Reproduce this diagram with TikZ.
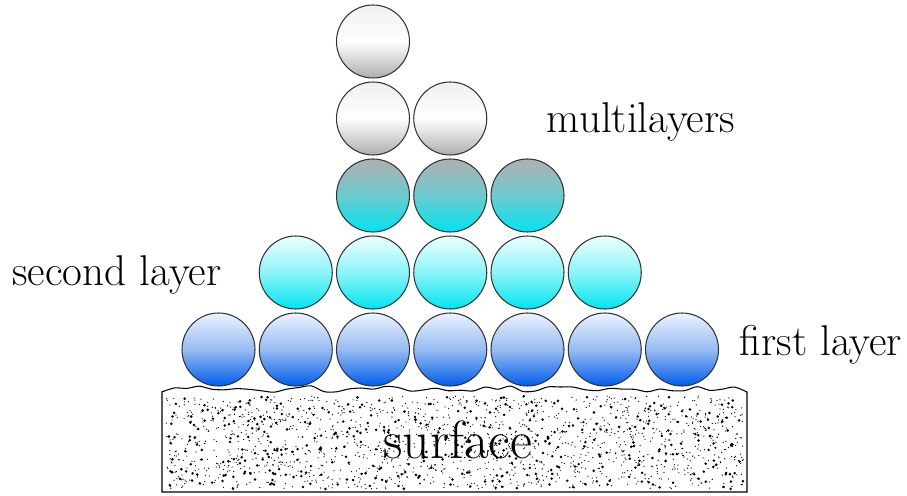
\documentclass[tikz,border=0pt]{standalone}
\usepackage{xcolor}

\definecolor{bluetop}{RGB}{236,243,255}
\definecolor{bluemid}{RGB}{150,188,242}
\definecolor{bluebot}{RGB}{0,92,235}
\definecolor{cyantop}{RGB}{236,255,255}
\definecolor{cyanmid}{RGB}{140,244,248}
\definecolor{cyanbot}{RGB}{0,228,240}
\definecolor{greytop}{RGB}{176,176,178}
\definecolor{greymid}{RGB}{108,202,206}

\begin{document}
\begin{tikzpicture}[
    mol/.style={shape=circle, draw=black!80, line width=0.6pt, minimum size=1.46cm, inner sep=0pt},
    firstmol/.style={mol, top color=bluetop, bottom color=bluebot, middle color=bluemid},
    secondmol/.style={mol, top color=cyantop, bottom color=cyanbot, middle color=cyanmid},
    thirdmol/.style={mol, top color=greytop, bottom color=cyanbot, middle color=greymid},
    topmol/.style={mol, top color=black!6, bottom color=black!32, middle color=white},
    layertext/.style={anchor=base, inner sep=0pt, font=\rmfamily\fontsize{24.5}{29}\selectfont}
  ]
    \useasboundingbox (0, 0) rectangle (18.14, 9.9);
    % Surface with rough top and speckles:
    \pgfmathsetseed{4711}
    \draw[line width=0.6pt] (14.94, 0.06) -- (3.24, 0.06) -- plot[smooth, samples=48, domain=3.24:14.94] (\x, {2.12+0.065*rand}) -- cycle;
    \fill[black] \foreach \i in {1,...,1500} {({3.32+11.55*rnd}, {0.12+1.86*rnd}) circle (0.013)};
    \fill[black] \foreach \i in {1,...,420} {({3.32+11.55*rnd}, {0.12+1.86*rnd}) circle (0.028)};
    \node[anchor=base, inner sep=0pt, font=\rmfamily\fontsize{30.6}{35}\selectfont](surf) at (9.16, 0.74){surface};
    % Molecules, row by row:
    \foreach \i in {0,...,6} \node[firstmol](f\i) at ({4.37+1.545*\i}, 2.91){};
    \foreach \i in {1,...,5} \node[secondmol](s\i) at ({4.37+1.545*\i}, 4.45){};
    \foreach \i in {2,3,4} \node[thirdmol](t\i) at ({4.37+1.545*\i}, 5.99){};
    \foreach \i in {2,3} \node[topmol](m\i) at ({4.37+1.545*\i}, 7.53){};
    \node[topmol](top) at ({4.37+1.545*2}, 9.07){};
    % Labels:
    \node[layertext](multi) at (12.82, 7.24){multilayers};
    \node[layertext](second) at (2.34, 4.2){second layer};
    \node[layertext](first) at (16.42, 2.8){first layer};
  \end{tikzpicture}
\end{document}
